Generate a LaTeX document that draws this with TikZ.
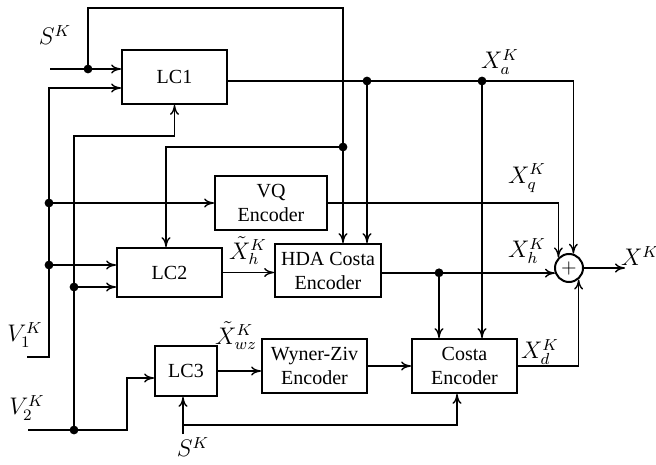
\documentclass[tikz,border=0pt]{standalone}
\usepackage{fontspec}
\setmainfont{Liberation Serif}
\usetikzlibrary{arrows.meta}
\begin{document}
\begin{tikzpicture}[x=0.5pt, y=-0.5pt, >={To[length=5pt,width=4.5pt]}]
    \tikzstyle{block}=[draw, line width=0.9pt, rectangle, minimum width=52.5pt, minimum height=27pt, align=center, inner sep=1pt];
    \tikzstyle{adder}=[draw, line width=1pt, circle, minimum size=14pt, inner sep=0pt];
    \tikzstyle{conn}=[line width=0.7pt];
    \tikzstyle{lbl}=[font=\large, inner sep=0pt];
    \useasboundingbox (0,0) rectangle (656,464);

    % blocks
    \node[block] (lc1) at (174.5,77) {LC1};
    \node[block, minimum width=56pt] (vq) at (271,203) {VQ\\Encoder};
    \node[block, minimum height=24.5pt] (lc2) at (169.5,272.5) {LC2};
    \node[block, minimum width=53pt, minimum height=26.5pt] (hda) at (328,270.5) {HDA Costa\\Encoder};
    \node[block, minimum width=31pt, minimum height=25pt] (lc3) at (186,371) {LC3};
    \node[block] (wz) at (314.5,366) {Wyner-Ziv\\Encoder};
    \node[block] (costa) at (464.5,366) {Costa\\Encoder};
    \node[adder] (sum) at (569,268) {$+$};

    % junctions and corners
    \coordinate (sk1) at (50,69);
    \coordinate (j1) at (88,69);
    \coordinate (t1) at (88,8);
    \coordinate (t2) at (343,8);
    \coordinate (j2) at (343,147);
    \coordinate (t3) at (166,147);
    \coordinate (v1) at (27,357);
    \coordinate (c1) at (49,357);
    \coordinate (c2) at (49,88);
    \coordinate (j3) at (49,203);
    \coordinate (j4) at (49,265);
    \coordinate (v2) at (28,430);
    \coordinate (j5) at (74,430);
    \coordinate (c3) at (127,430);
    \coordinate (c4) at (127,378);
    \coordinate (c5) at (74,136);
    \coordinate (j6) at (74,287);
    \coordinate (j7) at (367,81);
    \coordinate (j8) at (482,81);
    \coordinate (j9) at (439,272.8);
    \coordinate (sk2) at (183,434);
    \coordinate (c6) at (183,425);
    \coordinate (c7) at (457,425);
    \coordinate (xout) at (625,268);

    % connectors
    \draw[conn,->] (sk1) -- (lc1.west |- sk1);
    \draw[conn,->] (j1) -- (t1) -- (t2) -- (t2 |- hda.north);
    \draw[conn,->] (j2) -- (t3) -- (t3 |- lc2.north);
    \draw[conn,->] (v1) -- (c1) -- (c2) -- (lc1.west |- c2);
    \draw[conn,->] (j3) -- (j3 -| vq.west);
    \draw[conn,->] (j4) -- (j4 -| lc2.west);
    \draw[conn,->] (v2) -- (c3) -- (c4) -- (c4 -| lc3.west);
    \draw[conn,->] (j5) -- (c5) -| (lc1.south);
    \draw[conn,->] (j6) -- (j6 -| lc2.west);
    \draw[conn,->] (lc1.east |- j8) -| (sum.73);
    \draw[conn,->] (j7) -- (j7 |- hda.north);
    \draw[conn,->] (j8) -- (j8 |- costa.north);
    \draw[conn,->] (vq.east) -| (sum.135);
    \draw[conn,->] (lc2.east) -- (lc2.east -| hda.west);
    \draw[conn,->] (hda.east |- sum.200) -- (sum.200);
    \draw[conn,->] (j9) -- (j9 |- costa.north);
    \draw[conn,->] (lc3.east) -- (lc3.east -| wz.west);
    \draw[conn,->] (wz.east) -- (costa.west);
    \draw[conn,->] (costa.east) -| (sum.310);
    \draw[conn,->] (sum.east) -- (xout);
    \draw[conn,->] (sk2) -- (sk2 |- lc3.south);
    \draw[conn,->] (c6) -- (c7) -- (c7 |- costa.south);

    \foreach \p in {j1,j2,j3,j4,j5,j6,j7,j8,j9}
        \fill (\p) circle (2.2pt);

    % labels
    \node[lbl] (lsk1) at (55,35) {$S^K$};
    \node[lbl] (lxa) at (500,62) {$X_a^K$};
    \node[lbl] (lxq) at (527,178) {$X_q^K$};
    \node[lbl] (lxh) at (527,251) {$X_h^K$};
    \node[lbl] (lxk) at (640,256) {$X^K$};
    \node[lbl] (lxd) at (540,352) {$X_d^K$};
    \node[lbl] (lxth) at (248,251) {$\tilde{X}_h^K$};
    \node[lbl] (lxtwz) at (236,336) {$\tilde{X}_{wz}^K$};
    \node[lbl] (lv1) at (25,335) {$V_1^K$};
    \node[lbl] (lv2) at (27,408) {$V_2^K$};
    \node[lbl] (lsk2) at (193,447) {$S^K$};
\end{tikzpicture}
\end{document}
